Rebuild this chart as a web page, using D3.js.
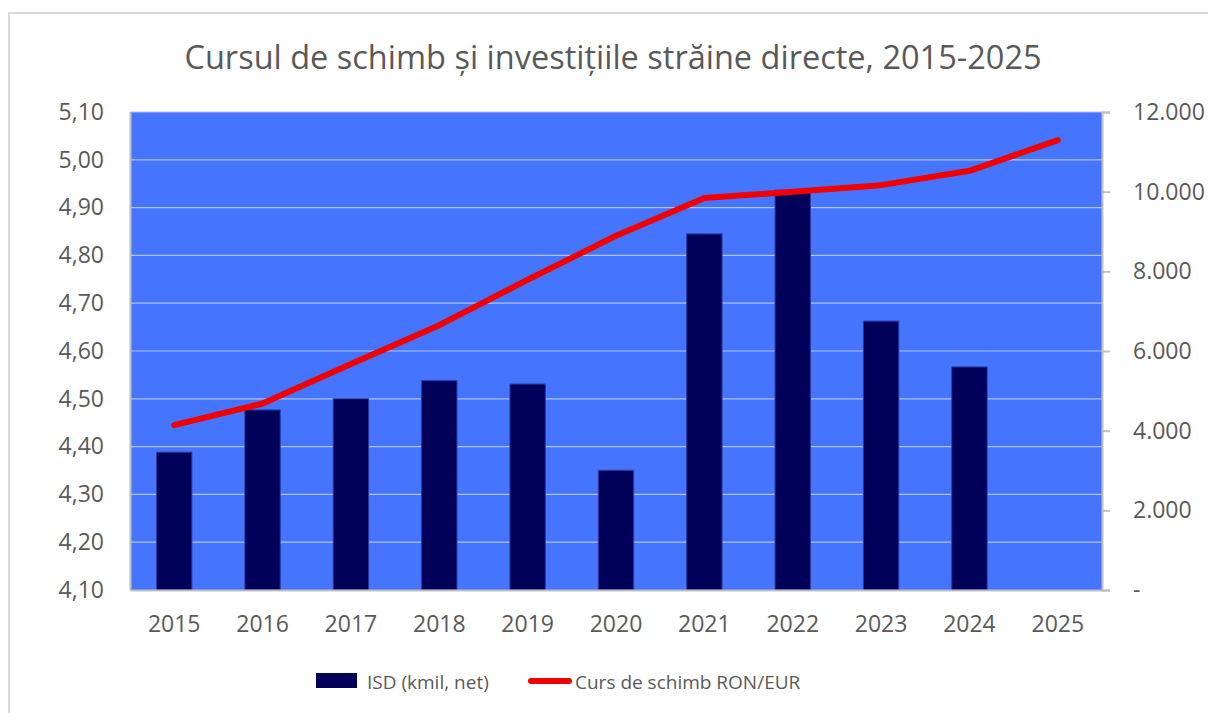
<!DOCTYPE html>
<html>
<head>
<meta charset="utf-8">
<script src="https://cdn.jsdelivr.net/npm/d3@7"></script>
<style>
  body { margin: 0; background: #fff; }
  text { font-family: 'Open Sans', sans-serif; fill: #595959; }
</style>
</head>
<body>
<svg id="chart"></svg>
<script>
// data
const years = ['2015', '2016', '2017', '2018', '2019', '2020', '2021', '2022', '2023', '2024', '2025']
const isd = [3460, 4520, 4800, 5255, 5170, 3005, 8940, 10040, 6750, 5600, null]
const curs = [4.445, 4.490, 4.573, 4.654, 4.749, 4.841, 4.920, 4.933, 4.947, 4.977, 5.041]
const leftTicks = [4.1, 4.2, 4.3, 4.4, 4.5, 4.6, 4.7, 4.8, 4.9, 5.0, 5.1]
const rightTicks = [0, 2000, 4000, 6000, 8000, 10000, 12000]

const config = {
  width: 1208,
  height: 713,
  margin: { top: 112, right: 106, bottom: 123, left: 130 },
  title: 'Cursul de schimb și investițiile străine directe, 2015-2025'
}

const { width, height, margin } = config
const w = width - margin.left - margin.right
const h = height - margin.top - margin.bottom

const svg = d3.select('#chart')
  .attr('width', width)
  .attr('height', height)

// outer chart border
svg.append('rect')
  .attr('x', 9).attr('y', 13)
  .attr('width', 1230).attr('height', 740)
  .attr('fill', 'none')
  .attr('stroke', '#d9d9d9')
  .attr('stroke-width', 2)

svg.append('text')
  .attr('x', 613).attr('y', 69)
  .attr('text-anchor', 'middle')
  .style('font-size', '32.5px')
  .text(config.title)

const g = svg.append('g')
  .attr('transform', `translate(${margin.left},${margin.top})`)

const x = d3.scaleBand().domain(years).range([0, w]).paddingInner(0).paddingOuter(0)
const yL = d3.scaleLinear().domain([4.1, 5.1]).range([h, 0])
const yR = d3.scaleLinear().domain([0, 12000]).range([h, 0])

g.append('rect')
  .attr('width', w).attr('height', h)
  .attr('fill', '#4575ff')

// gridlines
g.append('g')
  .selectAll('line')
  .data(leftTicks.slice(1))
  .enter().append('line')
  .attr('x1', 0).attr('x2', w)
  .attr('y1', d => yL(d)).attr('y2', d => yL(d))
  .attr('stroke', '#b3c2f2')
  .attr('stroke-width', 1.2)

// bars
const bw = x.bandwidth() * 0.4
g.append('g')
  .selectAll('rect')
  .data(years.map((yr, i) => ({ yr, v: isd[i] })).filter(d => d.v != null))
  .enter().append('rect')
  .attr('x', d => x(d.yr) + (x.bandwidth() - bw) / 2)
  .attr('y', d => yR(d.v))
  .attr('width', bw)
  .attr('height', d => h - yR(d.v))
  .attr('fill', '#000058')
  .attr('stroke', '#2a3aa0')
  .attr('stroke-width', 1)

// exchange rate line
const line = d3.line()
  .x((d, i) => x(years[i]) + x.bandwidth() / 2)
  .y(d => yL(d))
g.append('path')
  .datum(curs)
  .attr('d', line)
  .attr('fill', 'none')
  .attr('stroke', '#f20000')
  .attr('stroke-width', 6)
  .attr('stroke-linecap', 'round')
  .attr('stroke-linejoin', 'round')

// axes
const fmtL = d3.format('.2f')
const axL = g.append('g')
  .call(d3.axisLeft(yL).tickValues(leftTicks).tickSize(0).tickPadding(26)
    .tickFormat(d => fmtL(d).replace('.', ',')))
const axR = g.append('g')
  .attr('transform', `translate(${w},0)`)
  .call(d3.axisRight(yR).tickValues(rightTicks).tickSize(8).tickPadding(23)
    .tickFormat(d => d === 0 ? '-' : d3.format(',')(d).replace(/,/g, '.')))
const axB = g.append('g')
  .attr('transform', `translate(0,${h})`)
  .call(d3.axisBottom(x).tickSize(0).tickPadding(26))

for (const ax of [axL, axR, axB]) {
  ax.select('.domain').attr('stroke', '#bfbfbf').attr('stroke-width', 2)
  ax.selectAll('.tick line').attr('stroke', '#bfbfbf').attr('stroke-width', 2)
  ax.selectAll('text').style('font-size', '23px').attr('fill', '#595959').style('font-family', "'Open Sans', sans-serif")
}
axB.selectAll('text').attr('dy', '0.71em')

// legend
const lg = svg.append('g')
lg.append('rect')
  .attr('x', 316).attr('y', 673).attr('width', 41).attr('height', 15)
  .attr('fill', '#000058')
lg.append('text')
  .attr('x', 367).attr('y', 689)
  .style('font-size', '19px')
  .text('ISD (kmil, net)')
lg.append('line')
  .attr('x1', 531).attr('x2', 569).attr('y1', 681).attr('y2', 681)
  .attr('stroke', '#f20000').attr('stroke-width', 6).attr('stroke-linecap', 'round')
lg.append('text')
  .attr('x', 575).attr('y', 689)
  .style('font-size', '19px')
  .text('Curs de schimb RON/EUR')
</script>
</body>
</html>
